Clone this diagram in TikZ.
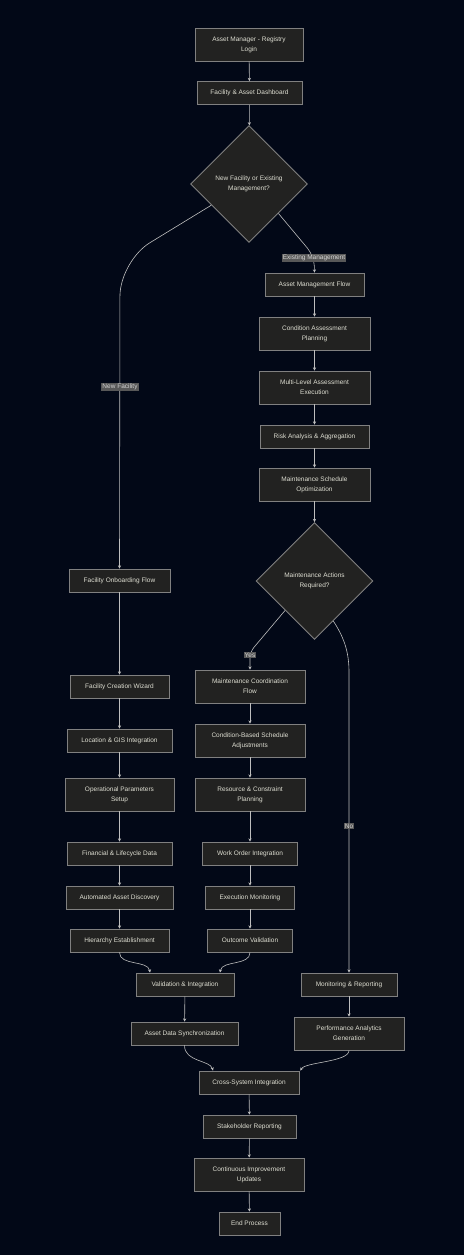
\documentclass[tikz,border=0pt]{standalone}
\usepackage{fontspec}
\setmainfont{Liberation Sans}
\usetikzlibrary{shapes.geometric,arrows.meta,calc}
\definecolor{bgc}{RGB}{2,8,23}
\definecolor{nodefill}{RGB}{34,34,33}
\definecolor{nodeborder}{RGB}{128,128,128}
\definecolor{txt}{RGB}{222,222,210}
\definecolor{linec}{RGB}{190,190,190}
\definecolor{lblbg}{RGB}{88,88,88}
\definecolor{lbltxt}{RGB}{210,210,210}
\tikzset{
  box/.style={draw=nodeborder, fill=nodefill, line width=0.9pt, text=txt,
    font=\fontsize{6.5}{10}\selectfont, align=center, inner sep=0pt,
    minimum height=23},
  tall/.style={box, minimum height=33},
  dia/.style={diamond, draw=nodeborder, fill=nodefill, line width=0.9pt, text=txt,
    font=\fontsize{6.5}{10}\selectfont, align=center, inner sep=0pt,
    minimum width=117, minimum height=117},
  arr/.style={draw=linec, line width=0.6pt, -{Stealth[length=3.2pt,width=3.2pt]}},
  lbl/.style={fill=lblbg, text=lbltxt, font=\fontsize{6.5}{8}\selectfont,
    inner sep=1pt}
}
\begin{document}
\begin{tikzpicture}[x=1pt,y=-1pt]
\fill[bgc] (0,0) rectangle (464,1255);
\useasboundingbox (0,0) rectangle (464,1255);

% main column top
\node[tall, minimum width=108] (login) at (249,44.5) {Asset Manager - Registry\\Login};
\node[box, minimum width=105] (dash) at (249.5,93) {Facility \& Asset Dashboard};
\node[dia] (d1) at (249,184) {New Facility or Existing\\Management?};

% right column (existing management)
\node[box, minimum width=99] (amf) at (314.5,284.5) {Asset Management Flow};
\node[tall, minimum width=111] (cap) at (314.5,333.5) {Condition Assessment\\Planning};
\node[tall, minimum width=111] (mla) at (314.5,387.5) {Multi-Level Assessment\\Execution};
\node[box, minimum width=109] (risk) at (314.5,436.5) {Risk Analysis \& Aggregation};
\node[tall, minimum width=111] (mso) at (314.5,484.5) {Maintenance Schedule\\Optimization};
\node[dia] (d2) at (314.5,581) {Maintenance Actions\\Required?};

% left column (new facility)
\node[box, minimum width=101] (onb) at (119.5,580.5) {Facility Onboarding Flow};
\node[box, minimum width=99] (fcw) at (119.5,686.5) {Facility Creation Wizard};
\node[box, minimum width=105] (gis) at (119.5,740.5) {Location \& GIS Integration};
\node[tall, minimum width=109] (ops) at (119.5,794.5) {Operational Parameters\\Setup};
\node[box, minimum width=105] (fin) at (119.5,853.5) {Financial \& Lifecycle Data};
\node[box, minimum width=107] (aad) at (119.5,897.5) {Automated Asset Discovery};
\node[box, minimum width=99] (hier) at (119.5,940.5) {Hierarchy Establishment};

% middle column (maintenance)
\node[tall, minimum width=110] (mcf) at (250,686.5) {Maintenance Coordination\\Flow};
\node[tall, minimum width=110] (cbs) at (250,740.5) {Condition-Based Schedule\\Adjustments};
\node[tall, minimum width=110] (rcp) at (250,794.5) {Resource \& Constraint\\Planning};
\node[box, minimum width=95] (woi) at (250,853.5) {Work Order Integration};
\node[box, minimum width=89] (exm) at (250,897.5) {Execution Monitoring};
\node[box, minimum width=85] (outv) at (250,940.5) {Outcome Validation};

% merge area
\node[box, minimum width=98] (vi) at (185,984.5) {Validation \& Integration};
\node[box, minimum width=96] (mon) at (349,984.5) {Monitoring \& Reporting};
\node[box, minimum width=107] (ads) at (184.5,1033.5) {Asset Data Synchronization};
\node[tall, minimum width=110] (pag) at (349,1033.5) {Performance Analytics\\Generation};
\node[box, minimum width=100] (csi) at (249,1082.5) {Cross-System Integration};
\node[box, minimum width=93] (stk) at (249.5,1126.5) {Stakeholder Reporting};
\node[tall, minimum width=110] (ciu) at (249,1174.5) {Continuous Improvement\\Updates};
\node[box, minimum width=61] (endp) at (249.5,1223.5) {End Process};

% edges
\draw[arr] (login) -- (dash);
\draw[arr] (dash) -- (d1);
\draw[arr, rounded corners=35] ($(d1.west)!0.36!(d1.south)$) -- (120,261) -- (onb.north);
\node[lbl] at (120,387) {New Facility};
\draw[arr, rounded corners=10] (d1.south east) -- (314,256) -- (amf.north);
\node[lbl] at (314,258) {Existing Management};
\draw[arr] (amf) -- (cap);
\draw[arr] (cap) -- (mla);
\draw[arr] (mla) -- (risk);
\draw[arr] (risk) -- (mso);
\draw[arr] (mso) -- (d2);
\draw[arr] (onb) -- (fcw);
\draw[arr] (fcw) -- (gis);
\draw[arr] (gis) -- (ops);
\draw[arr] (ops) -- (fin);
\draw[arr] (fin) -- (aad);
\draw[arr] (aad) -- (hier);
\draw[arr, rounded corners=6] (d2.south west) -- (250,652) -- (mcf.north);
\node[lbl] at (250,655) {Yes};
\draw[arr] ($(d2.east)!0.68!(d2.south)$) .. controls (343,636) and (349,650) .. (349,672) -- (mon.north);
\node[lbl] at (349,826) {No};
\draw[arr] (mcf) -- (cbs);
\draw[arr] (cbs) -- (rcp);
\draw[arr] (rcp) -- (woi);
\draw[arr] (woi) -- (exm);
\draw[arr] (exm) -- (outv);
\draw[arr] (hier.south) .. controls (119.5,966) and (148,960) .. ($(vi.north)+(-35,0)$);
\draw[arr] (outv.south) .. controls (250,966) and (222,960) .. ($(vi.north)+(35,0)$);
\draw[arr] (vi) -- (ads);
\draw[arr] (mon) -- (pag);
\draw[arr] (ads.south) .. controls (184.5,1062) and (210,1060) .. ($(csi.north)+(-36,0)$);
\draw[arr] (pag.south) .. controls (349,1062) and (305,1062) .. ($(csi.north east)+(1,0)$);
\draw[arr] (csi) -- (stk);
\draw[arr] (stk) -- (ciu);
\draw[arr] (ciu) -- (endp);
\end{tikzpicture}
\end{document}
